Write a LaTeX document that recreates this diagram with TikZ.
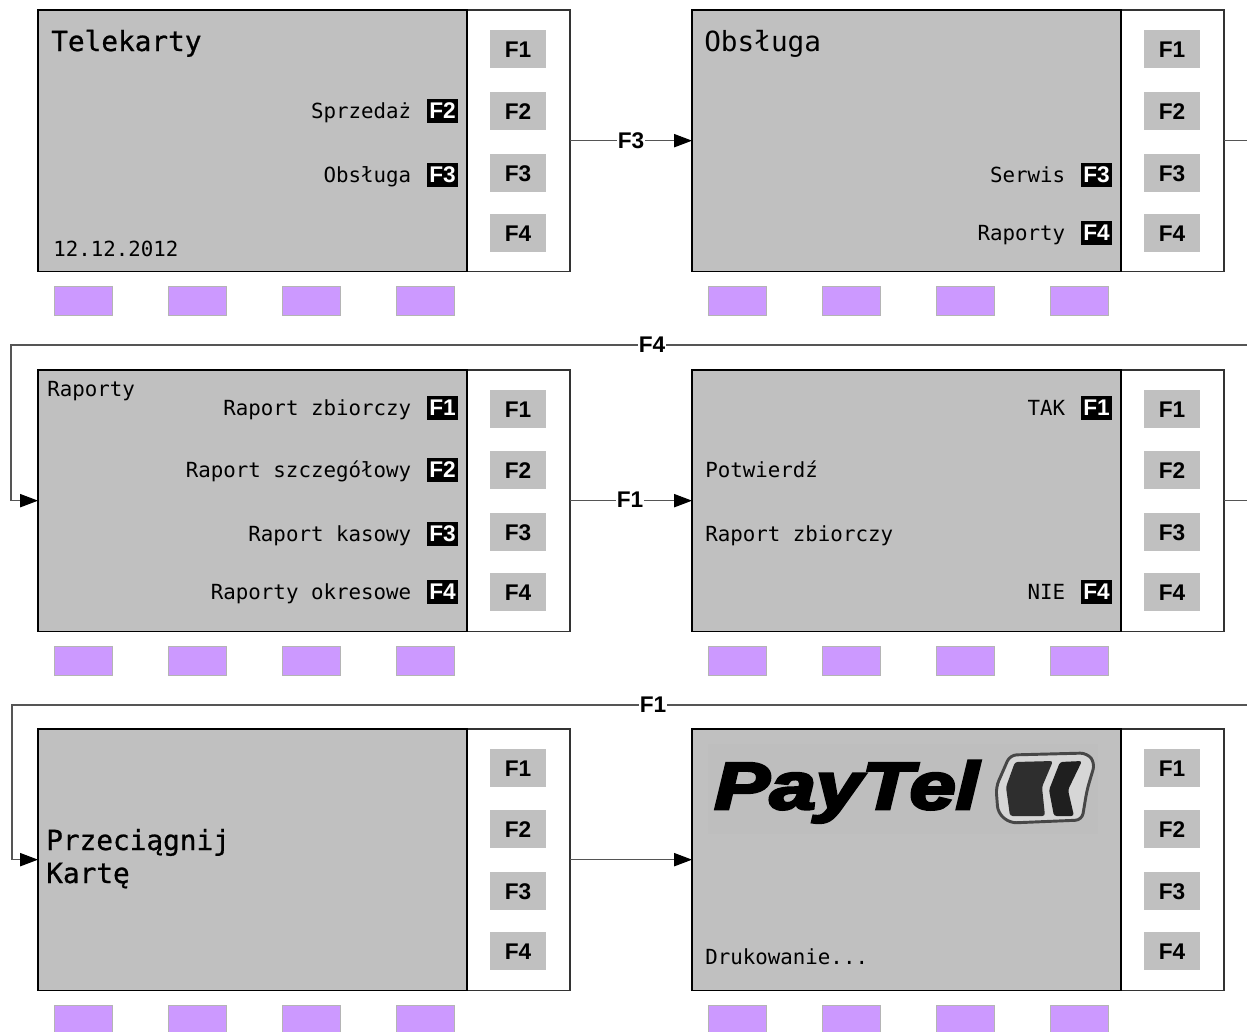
\documentclass[tikz,border=0pt]{standalone}
\usepackage{fontspec}
\setmainfont{Liberation Sans}
\newfontfamily\lcd{DejaVu Sans Mono}
\newfontfamily\lcdheavy[FakeBold=0.8]{DejaVu Sans Mono}
\newfontfamily\logofont[FakeBold=4]{Liberation Sans}
\usetikzlibrary{arrows.meta,calc}
\definecolor{lcdgray}{HTML}{C0C0C0}
\definecolor{softkey}{HTML}{CC99FF}
\definecolor{softedge}{HTML}{B4B4B4}
\definecolor{wire}{HTML}{555555}
\tikzset{
  screenbox/.style={draw=black,line width=1.1pt,fill=lcdgray,minimum width=321.75pt,minimum height=#1,inner sep=0pt,outer sep=0pt},
  sidebox/.style={draw=black!80,line width=0.9pt,fill=white,minimum width=77.25pt,minimum height=#1,inner sep=0pt,outer sep=0pt},
  hardkey/.style={fill=lcdgray,minimum width=42pt,minimum height=28.5pt,inner sep=0pt,text height=13.2pt,text depth=0pt,font=\fontsize{17}{17}\selectfont\bfseries,text=black},
  softbox/.style={draw=softedge,line width=0.8pt,fill=softkey,minimum width=43.5pt,minimum height=22pt,inner sep=0pt},
  badge/.style={fill=black,text=white,minimum width=23pt,minimum height=18pt,inner sep=0pt,font=\fontsize{17}{17}\selectfont\bfseries},
  lcdtext/.style={inner sep=0pt,font=\lcd\fontsize{15.6}{15.6}\selectfont,text=black},
  lcdbig/.style={inner sep=0pt,font=\lcd\fontsize{20.8}{20.8}\selectfont,text=black},
  lcdbigheavy/.style={inner sep=0pt,font=\lcdheavy\fontsize{20.8}{20.8}\selectfont,text=black},
  wireline/.style={draw=wire,line width=0.8pt},
  arrowed/.style={-{Triangle[length=13.5pt,width=10pt,color=black]}},
  wirelabel/.style={fill=white,inner sep=0.6pt,font=\fontsize{17}{17}\selectfont\bfseries,text=black},
}
% name, x of screen left, y of screen top, centre y of the four keys
\newcommand{\panel}[7]{%
  \node[sidebox=196pt,anchor=north west] (#1side) at (#2+429,#3) {};
  \node[screenbox=196pt,anchor=north west] (#1) at (#2,#3) {};
  \node[hardkey] (#1k1) at (#2+480,#4) {F1};
  \node[hardkey] (#1k2) at (#2+480,#5) {F2};
  \node[hardkey] (#1k3) at (#2+480,#6) {F3};
  \node[hardkey] (#1k4) at (#2+480,#7) {F4};
  \node[softbox,anchor=north west] (#1p1) at (#2+16,#3+276) {};
  \node[softbox,anchor=north west] (#1p2) at (#2+130,#3+276) {};
  \node[softbox,anchor=north west] (#1p3) at (#2+244,#3+276) {};
  \node[softbox,anchor=north west] (#1p4) at (#2+358,#3+276) {};
}
% name, x of screen left, centre y, text, key
\newcommand{\menuitem}[5]{%
  \node[lcdtext,anchor=base east] (#1t) at (#2+373.5,#3+7) {#4};
  \node[badge] (#1b) at (#2+404.5,#3) {#5};
}
\begin{document}
\begin{tikzpicture}[x=0.75pt,y=-0.75pt]
\useasboundingbox (0,0) rectangle (1247,1032);
\clip (0,0) rectangle (1247,1032);
\panel{a}{38}{10}{49}{111}{173}{233}
\panel{b}{692}{10}{49}{111}{173}{233}
\panel{c}{38}{370}{409}{470}{532}{592}
\panel{d}{692}{370}{409}{470}{532}{592}
\panel{e}{38}{729}{768}{829}{891}{951}
\panel{f}{692}{729}{768}{829}{891}{951}
% connectors
\coordinate (r1) at (1252,345);
\coordinate (l1) at (11,345);
\coordinate (r2) at (1252,705);
\coordinate (l2) at (12,705);
\draw[wireline,arrowed] (aside.east) -- (b.west);
\draw[wireline,arrowed] (cside.east) -- (d.west);
\draw[wireline,arrowed] (eside.east) -- (f.west);
\draw[wireline,arrowed] (bside.east) -- (bside.east -| r1) -- (r1) -- (l1) |- (c.west);
\draw[wireline,arrowed] (dside.east) -- (dside.east -| r2) -- (r2) -- (l2) |- (e.west);
\node[wirelabel] (lab1) at (631,141) {F3};
\node[wirelabel] (lab2) at (652,345) {F4};
\node[wirelabel] (lab3) at (630,500) {F1};
\node[wirelabel] (lab4) at (653,705) {F1};
% screen 1
\node[lcdbigheavy,anchor=base west] (a1) at (51,51) {Telekarty};
\menuitem{a2}{38}{111}{Sprzedaż}{F2}
\menuitem{a3}{38}{175}{Obsługa}{F3}
\node[lcdtext,anchor=base west] (a4) at (53,256) {12.12.2012};
% screen 2
\node[lcdbig,anchor=base west] (b1) at (704,51) {Obsługa};
\menuitem{b2}{692}{175}{Serwis}{F3}
\menuitem{b3}{692}{233}{Raporty}{F4}
% screen 3
\node[lcdtext,anchor=base west] (c0) at (47,396) {Raporty};
\menuitem{c1}{38}{408}{Raport zbiorczy}{F1}
\menuitem{c2}{38}{470}{Raport szczegółowy}{F2}
\menuitem{c3}{38}{534}{Raport kasowy}{F3}
\menuitem{c4}{38}{592}{Raporty okresowe}{F4}
% screen 4
\menuitem{d1}{692}{408}{TAK}{F1}
\node[lcdtext,anchor=base west] (d2) at (705,477) {Potwierdź};
\node[lcdtext,anchor=base west] (d3) at (705,541) {Raport zbiorczy};
\menuitem{d4}{692}{592}{NIE}{F4}
% screen 5
\node[lcdbigheavy,anchor=base west] (e1) at (46,850) {Przeciągnij};
\node[lcdbigheavy,anchor=base west] (e2) at (46,883) {Kartę};
% screen 6
\fill[black!1!lcdgray] (708,744) rectangle (1098,834);
\node[inner sep=0pt,anchor=base west,xscale=1.245,font=\logofont\fontsize{50}{50}\selectfont\bfseries\itshape,text=black] (f1) at (714,809) {PayTel};
\draw[black!72,line width=2.2pt,line join=round,fill=lcdgray!65!white,rounded corners=5pt]
  (1010,755) -- (1087,753) -- (1095,763) -- (1087,790) -- (1082,820) -- (1010,823) -- (998,813) -- (996,787) -- cycle;
\fill[black!82,rounded corners=2pt] (1015,762) -- (1053,761) -- (1042,787) -- (1045,816) -- (1010,816) -- (1006,787) -- cycle;
\fill[black!88,rounded corners=2pt] (1060,762) -- (1082,761) -- (1068,790) -- (1074,816) -- (1054,816) -- (1049,790) -- cycle;
\node[lcdtext,anchor=base west] (f2) at (705,964) {Drukowanie...};
\end{tikzpicture}
\end{document}
